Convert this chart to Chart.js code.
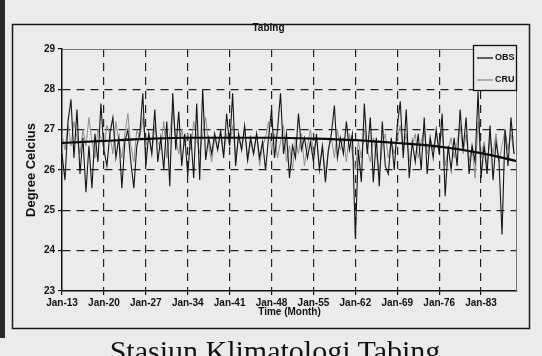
<!DOCTYPE html>
<html>
<head>
<meta charset="utf-8">
<title>Tabing</title>
<script src="https://cdn.jsdelivr.net/npm/chart.js@4"></script>
<style>
    html, body { margin: 0; padding: 0; background: #ebebeb; }
    #wrap { position: relative; width: 542px; height: 356px; overflow: hidden; }
    #edge { position: absolute; left: 0; top: 0; width: 5px; height: 338px; background: #2a2a2a; }
    #chart { position: absolute; left: 0; top: 0; }
    #caption {
        position: absolute; left: 0; top: 336px; width: 550px;
        text-align: center; color: #111;
        font-family: 'Liberation Serif', 'DejaVu Serif', serif;
        font-size: 30px; line-height: 1;
    }
</style>
</head>
<body>
<div id="wrap">
    <div id="edge"></div>
    <canvas id="chart" width="542" height="356"></canvas>
    <div id="caption">Stasiun Klimatologi Tabing</div>
</div>
<script>
// Tick labels along the time axis, one every 84 months
const tickLabels = ['Jan-13', 'Jan-20', 'Jan-27', 'Jan-34', 'Jan-41', 'Jan-48',
    'Jan-55', 'Jan-62', 'Jan-69', 'Jan-76', 'Jan-83'];
const monthsPerTick = 84;
const lastMonth = 912;
const stepMonths = 6; // spacing of the values below

const obsValues = [
    26.4, 25.75, 27.2, 27.75, 26.3, 27.5, 25.9, 26.8, 25.45, 26.6, 25.55, 26.9, 26.2, 27.65,
    26.5, 26.1, 26.9, 27.3, 26.3, 26.8, 25.55, 26.7, 27.0, 26.2, 25.55, 26.6, 26.9, 27.9,
    26.1, 26.9, 26.4, 27.5, 26.2, 26.8, 26.0, 27.2, 25.6, 27.9, 26.5, 27.45, 26.1, 26.9,
    25.85, 26.9, 25.8, 27.65, 25.75, 28.0, 26.25, 26.8, 26.4, 26.9, 26.5, 26.95, 26.3, 27.4,
    26.6, 27.9, 26.1, 26.9, 26.5, 27.1, 26.25, 26.8, 26.4, 26.9, 26.3, 26.7, 26.0, 26.8,
    27.5, 26.3, 27.0, 27.9, 26.4, 26.9, 25.8, 26.6, 26.3, 27.4, 26.5, 26.8, 26.3, 26.7,
    26.2, 26.9, 26.0, 26.6, 25.7, 26.5, 26.9, 27.6, 26.3, 26.8, 26.4, 27.2, 26.5, 26.9,
    24.3, 26.5, 25.7, 27.65, 26.4, 27.3, 25.7, 26.8, 25.6, 27.2, 26.1, 25.9, 26.8, 26.0,
    27.1, 27.7, 26.3, 27.5, 25.8, 26.7, 26.2, 26.9, 26.0, 27.3, 25.9, 26.8, 26.3, 27.0,
    26.4, 27.4, 25.35, 26.6, 26.0, 26.8, 26.1, 27.5, 26.5, 27.3, 25.9, 26.6, 26.2, 27.95,
    25.8, 26.6, 25.9, 27.1, 25.75, 26.7, 26.2, 24.4, 27.0, 26.1, 27.3, 26.4
];

// CRU gridded temperature (degC)
const cruValues = [
    26.9, 26.5, 27.1, 26.6, 27.2, 26.8, 26.4, 27.0, 26.6, 27.3, 26.7, 26.3, 27.0, 26.8,
    26.5, 27.1, 26.9, 26.4, 27.2, 26.7, 26.3, 26.9, 27.4, 26.6, 26.2, 27.0, 26.8, 27.3,
    26.6, 26.9, 26.4, 27.1, 26.7, 26.5, 27.2, 26.3, 26.9, 27.5, 26.8, 26.4, 27.0, 26.6,
    26.9, 26.5, 27.2, 26.8, 26.4, 26.9, 27.3, 26.6, 26.2, 26.8, 26.5, 27.0, 26.4, 26.9,
    26.6, 27.1, 26.3, 26.8, 26.5, 27.0, 26.2, 26.7, 26.4, 26.9, 26.1, 26.6, 26.8, 27.2,
    26.5, 26.9, 26.3, 26.7, 27.1, 26.2, 26.6, 26.0, 26.8, 26.4, 26.9, 26.1, 26.6, 27.0,
    26.4, 26.8, 26.1, 26.6, 25.9, 26.5, 26.8, 26.3, 27.0, 26.5, 26.8, 26.2, 26.9, 26.4,
    26.0, 26.7, 26.3, 27.0, 26.5, 26.2, 26.8, 26.4, 25.9, 26.6, 26.9, 26.3, 26.7, 26.4,
    26.8, 27.1, 26.5, 26.9, 26.2, 26.6, 26.9, 26.3, 26.7, 27.0, 26.4, 26.8, 26.5, 26.9,
    26.6, 27.0, 26.1, 26.5, 26.8, 26.3, 26.7, 27.1, 26.4, 26.9, 26.2, 26.6, 25.8, 27.2,
    26.3, 26.7, 26.1, 26.8, 26.4, 26.9, 26.2, 26.6, 27.0, 26.5, 26.9, 26.4
];

// Smooth trend curve (thick black line)
const trendMonths = [0, 84, 168, 252, 336, 420, 504, 588, 672, 756, 840, 912];
const trendValues = [26.67, 26.72, 26.77, 26.8, 26.8, 26.8, 26.78, 26.74, 26.67, 26.58, 26.42, 26.22];

const fontFamily = "'Liberation Sans Narrow', 'Liberation Sans', Arial, sans-serif";
const ink = '#111';

Chart.defaults.font.family = fontFamily;
Chart.defaults.color = ink;

const toPoints = (values) => values.map((v, i) => ({ x: i * stepMonths, y: v }));

// outer frame, thin plot edges and the boxed legend
const framePlugin = {
    id: 'frame',
    beforeDraw(chart) {
        const ctx = chart.ctx;
        ctx.save();
        ctx.strokeStyle = '#1a1a1a';
        ctx.lineWidth = 1.5;
        ctx.strokeRect(12.5, 24.5, 517, 304);
        ctx.restore();
    },
    afterDraw(chart) {
        const { ctx, chartArea: a } = chart;
        ctx.save();
        ctx.strokeStyle = '#777';
        ctx.lineWidth = 1;
        ctx.beginPath();
        ctx.moveTo(a.left, a.top + 0.5);
        ctx.lineTo(a.right - 0.5, a.top + 0.5);
        ctx.lineTo(a.right - 0.5, a.bottom);
        ctx.stroke();

        const w = 44, h = 46;
        const x = a.right - w, y = a.top - 4;
        ctx.fillStyle = '#ebebeb';
        ctx.fillRect(x, y, w, h);
        ctx.strokeStyle = ink;
        ctx.lineWidth = 1.3;
        ctx.strokeRect(x + 0.5, y + 0.5, w - 1, h - 1);

        ctx.font = 'bold 9px ' + fontFamily;
        ctx.textBaseline = 'middle';
        chart.data.datasets.filter(d => d.label).forEach((d, i) => {
            const ly = y + 13 + i * 22;
            ctx.strokeStyle = d.borderColor;
            ctx.lineWidth = 1.3;
            ctx.beginPath();
            ctx.moveTo(x + 4, ly);
            ctx.lineTo(x + 20, ly);
            ctx.stroke();
            ctx.fillStyle = ink;
            ctx.fillText(d.label, x + 22, ly);
        });
        ctx.restore();
    }
};

new Chart(document.getElementById('chart'), {
    type: 'line',
    data: {
        datasets: [
            {
                label: 'OBS',
                data: toPoints(obsValues),
                borderColor: '#151515',
                borderWidth: 1.1,
                pointRadius: 0,
                tension: 0,
                order: 2
            },
            {
                label: 'CRU',
                data: toPoints(cruValues),
                borderColor: '#8e8e8e',
                borderWidth: 1,
                pointRadius: 0,
                tension: 0,
                order: 3
            },
            {
                data: trendMonths.map((m, i) => ({ x: m, y: trendValues[i] })),
                borderColor: '#0a0a0a',
                borderWidth: 2.2,
                pointRadius: 0,
                cubicInterpolationMode: 'monotone',
                order: 1
            }
        ]
    },
    options: {
        responsive: false,
        animation: false,
        layout: { padding: { left: 20, right: 25, top: 16, bottom: 35 } },
        plugins: {
            legend: { display: false },
            tooltip: { enabled: false },
            title: {
                display: true,
                text: 'Tabing',
                color: ink,
                font: { size: 10, weight: 'bold' },
                padding: { top: 6, bottom: 15 }
            }
        },
        scales: {
            x: {
                type: 'linear',
                min: 0,
                max: lastMonth,
                afterBuildTicks: (scale) => {
                    scale.ticks = tickLabels.map((_, i) => ({ value: i * monthsPerTick }));
                },
                afterFit: (scale) => { scale.height = 30; },
                ticks: {
                    autoSkip: false,
                    maxRotation: 0,
                    padding: 2,
                    color: ink,
                    font: { size: 10, weight: 'bold' },
                    callback: (value, index) => tickLabels[index]
                },
                grid: {
                    color: (c) => (c.tick && c.tick.value === 0 ? 'transparent' : '#222'),
                    tickColor: ink,
                    tickLength: 4,
                    lineWidth: 1.2
                },
                border: { display: true, color: ink, width: 1.5, dash: [8, 6] },
                title: {
                    display: true,
                    text: 'Time (Month)',
                    color: ink,
                    font: { size: 10, weight: 'bold' },
                    padding: { top: 0, bottom: 3 }
                }
            },
            y: {
                min: 23,
                max: 29,
                afterFit: (scale) => { scale.width = 42; },
                ticks: {
                    stepSize: 1,
                    padding: 3,
                    color: ink,
                    font: { size: 10, weight: 'bold' }
                },
                grid: {
                    color: (c) => (c.tick && (c.tick.value === 29 || c.tick.value === 23) ? 'transparent' : '#222'),
                    tickColor: ink,
                    tickLength: 4,
                    lineWidth: 1.2
                },
                border: { display: true, color: ink, width: 1.5, dash: [8, 6] },
                title: {
                    display: true,
                    text: 'Degree Celcius',
                    color: ink,
                    font: { size: 13, weight: 'bold' },
                    padding: { top: 4, bottom: 0 }
                }
            }
        }
    },
    plugins: [framePlugin]
});
</script>
</body>
</html>
